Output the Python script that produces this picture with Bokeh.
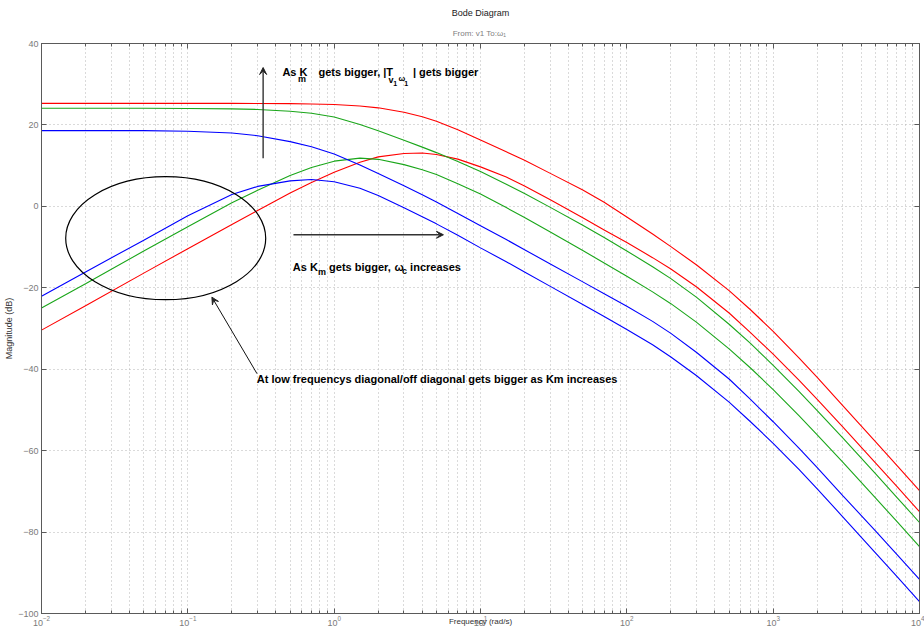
from bokeh.plotting import figure
from bokeh.models import (Range1d, FixedTicker, LogAxis, LinearAxis, Label,
                          Arrow, VeeHead, ColumnDataSource, Title)
from bokeh.embed import file_html
from bokeh.resources import INLINE

# Frequency grid (rad/s)
w = [0.01, 0.02, 0.05, 0.1, 0.2, 0.3, 0.5, 0.7, 1, 1.5, 2, 3, 4, 5, 7, 10,
     15, 20, 30, 50, 70, 100, 150, 200, 300, 500, 700, 1000, 1500, 2000,
     3000, 5000, 7000, 10000]

# Magnitudes (dB): diagonal and off-diagonal responses for three Km values
red_diag = [25.3, 25.3, 25.3, 25.3, 25.3, 25.27, 25.23, 25.15, 25.0, 24.65,
            24.2, 23.1, 22.0, 20.9, 18.8, 16.3, 13.4, 11.3, 8.1, 4.0, 1.0,
            -2.6, -6.8, -9.9, -14.4, -20.7, -25.4, -30.7, -37.2, -42.0,
            -49.0, -57.8, -63.6, -69.8]
red_off = [-30.4, -24.4, -16.4, -10.4, -4.45, -1.0, 3.3, 5.85, 8.35, 10.85,
           12.15, 13.0, 13.1, 12.75, 11.6, 9.7, 7.2, 5.0, 1.6, -2.8, -5.8,
           -8.9, -12.6, -15.4, -19.8, -26.2, -31.0, -36.3, -42.7, -47.4,
           -54.2, -63.0, -68.8, -75.0]
green_diag = [24.1, 24.1, 24.1, 24.05, 23.95, 23.8, 23.35, 22.85, 21.95,
              20.1, 18.55, 16.25, 14.55, 13.2, 11.0, 8.55, 5.45, 3.15, -0.25,
              -4.65, -7.65, -10.95, -14.85, -17.75, -22.35, -28.95, -33.65,
              -39.05, -45.45, -50.15, -56.95, -65.65, -71.45, -77.65]
green_off = [-24.95, -19.0, -10.97, -5.0, 0.9, 3.95, 7.6, 9.55, 11.1, 11.85,
             11.55, 10.25, 9.0, 7.8, 5.55, 3.05, -0.3, -2.75, -6.3, -10.85,
             -13.9, -17.15, -21.0, -23.9, -28.5, -35.0, -39.7, -45.0, -51.4,
             -56.1, -62.9, -71.6, -77.4, -83.6]
blue_diag = [18.6, 18.6, 18.6, 18.45, 18.0, 17.35, 15.9, 14.65, 12.85, 10.15,
             8.05, 5.05, 2.85, 1.05, -1.75, -4.75, -8.15, -10.65, -14.15,
             -18.55, -21.45, -24.55, -28.25, -31.2, -35.9, -42.4, -47.4,
             -52.9, -59.4, -64.2, -71.1, -79.7, -85.5, -91.6]
blue_off = [-22.1, -16.1, -8.3, -2.3, 2.9, 4.9, 6.25, 6.6, 6.05, 4.45, 2.65,
            -0.35, -2.55, -4.3, -7.1, -10.2, -13.6, -16.1, -19.65, -24.1,
            -27.05, -30.25, -34.0, -37.0, -41.6, -48.1, -52.9, -58.2, -64.6,
            -69.4, -76.3, -85.1, -90.9, -97.1]

x_major = [1e-2, 1e-1, 1e0, 1e1, 1e2, 1e3, 1e4]
x_minor = [m * d for d in x_major[:-1] for m in range(2, 10)]
y_major = [-100, -80, -60, -40, -20, 0, 20, 40]

AXIS = "#5a5a5a"
LABEL = "#7a7a7a"
GRID = "#b4b4b4"
FONT = "Liberation Sans"

p = figure(width=924, height=630, x_axis_type="log",
           x_range=Range1d(1e-2, 1e4), y_range=Range1d(-100, 40),
           output_backend="svg", toolbar_location=None, title=None,
           min_border_left=41, min_border_right=5,
           min_border_top=43, min_border_bottom=17)
p.background_fill_color = "white"
p.border_fill_color = "white"
p.outline_line_color = AXIS

xticker = FixedTicker(ticks=x_major, minor_ticks=x_minor)
yticker = FixedTicker(ticks=y_major, minor_ticks=[])

for ax in (p.xaxis[0], p.yaxis[0]):
    ax.major_tick_in = 5
    ax.major_tick_out = 0
    ax.minor_tick_in = 3
    ax.minor_tick_out = 0
    ax.axis_line_color = AXIS
    ax.major_tick_line_color = AXIS
    ax.minor_tick_line_color = AXIS
    ax.major_label_text_color = LABEL
    ax.major_label_text_font = FONT
    ax.major_label_text_font_size = "9px"
    ax.major_label_standoff = 3
    ax.axis_label_text_font = FONT
    ax.axis_label_text_font_style = "normal"
    ax.axis_label_text_color = "#333333"
p.xaxis[0].ticker = xticker
p.yaxis[0].ticker = yticker
p.yaxis[0].minor_tick_line_color = None
p.yaxis[0].axis_label = "Magnitude (dB)"
p.yaxis[0].axis_label_text_font_size = "9px"
p.yaxis[0].axis_label_standoff = 1
p.xaxis[0].major_label_standoff = 2
# frequency label sits on the same row as the decade labels
p.xaxis[0].axis_label = "Frequency (rad/s)"
p.xaxis[0].axis_label_text_font_size = "8px"
p.xaxis[0].axis_label_standoff = -12

# tick marks on the top and right edges of the box (labels hidden)
top = LogAxis(ticker=xticker, major_label_text_font_size="1px",
              major_label_text_alpha=0,
              major_tick_in=5, major_tick_out=0, minor_tick_in=3,
              minor_tick_out=0, axis_line_color=AXIS,
              major_tick_line_color=AXIS, minor_tick_line_color=AXIS,
              major_label_standoff=0)
right = LinearAxis(ticker=yticker, major_label_text_font_size="1px",
                   major_label_text_alpha=0,
                   major_tick_in=5, major_tick_out=0, minor_tick_line_color=None,
                   axis_line_color=AXIS, major_tick_line_color=AXIS,
                   major_label_standoff=0)
p.add_layout(top, "above")
p.add_layout(right, "right")

# titles above the box: the one added last sits on top
p.add_layout(Title(text="From: v1  To:\u03c9\u2081", align="center",
                   text_font=FONT, text_font_size="8px",
                   text_font_style="normal", text_color="#808080",
                   standoff=11), "above")
p.add_layout(Title(text="Bode Diagram", align="center", offset=-12,
                   text_font=FONT, text_font_size="9px",
                   text_font_style="normal", text_color="#222222",
                   standoff=8), "above")

p.xgrid.grid_line_color = GRID
p.xgrid.grid_line_dash = "1 3"
p.xgrid.minor_grid_line_color = GRID
p.xgrid.minor_grid_line_dash = "1 3"
p.ygrid.grid_line_color = GRID
p.ygrid.grid_line_dash = "1 3"

src = ColumnDataSource(dict(w=w, rd=red_diag, ro=red_off, gd=green_diag,
                            go=green_off, bd=blue_diag, bo=blue_off))
for col, color in (("rd", "#ff0000"), ("ro", "#ff0000"),
                   ("gd", "#1aa61a"), ("go", "#1aa61a"),
                   ("bd", "#0000ff"), ("bo", "#0000ff")):
    p.line("w", col, source=src, line_color=color, line_width=1.1)

# ellipse around the low-frequency region
p.ellipse(x=[0.0706], y=[-7.82], width=200, height=123, width_units="screen",
          height_units="screen", fill_color=None, line_color="black",
          line_width=1.2)

head = dict(size=7, fill_color="#222222", line_color="#222222")
p.add_layout(Arrow(x_start=0.327, y_start=11.8, x_end=0.327, y_end=34.1,
                   line_color="#333333", line_width=1.4,
                   end=VeeHead(**head)))
p.add_layout(Arrow(x_start=0.527, y_start=-6.98, x_end=5.58, y_end=-6.98,
                   line_color="#333333", line_width=1.4,
                   end=VeeHead(**head)))
p.add_layout(Arrow(x_start=0.297, y_start=-41.1, x_end=0.146, y_end=-22.3,
                   line_color="#111111", line_width=1.0,
                   end=VeeHead(**head)))


def note(x, y, text, size="11px", color="black", bold=True):
    p.add_layout(Label(x=x, y=y, text=text, text_font=FONT,
                       text_font_size=size, text_color=color,
                       text_font_style="bold" if bold else "normal",
                       text_baseline="alphabetic", text_align="left"))


# "As K_m gets bigger, |T_{v1 w1}| gets bigger"
note(0.443, 32.95, "As K")
note(0.565, 31.33, "m", size="9px")
note(0.781, 32.95, "gets bigger, |T")
note(2.351, 31.08, "v", size="9px")
note(2.532, 30.1, "1", size="7px")
note(2.752, 31.33, "\u03c9", size="8px")
note(3.01, 30.1, "1", size="7px")
note(3.452, 32.95, "| gets bigger")

# "As K_m gets bigger, w_c increases"
note(0.522, -14.94, "As K")
note(0.775, -16.2, "m", size="9px")
note(0.923, -14.94, "gets bigger,")
note(2.584, -14.94, "\u03c9")
note(2.909, -15.95, "c", size="9px")
note(3.304, -14.94, "increases")

note(0.296, -42.4,
     "At low frequencys diagonal/off diagonal gets bigger as Km increases")

open("out.html", "w").write(file_html(p, INLINE))
